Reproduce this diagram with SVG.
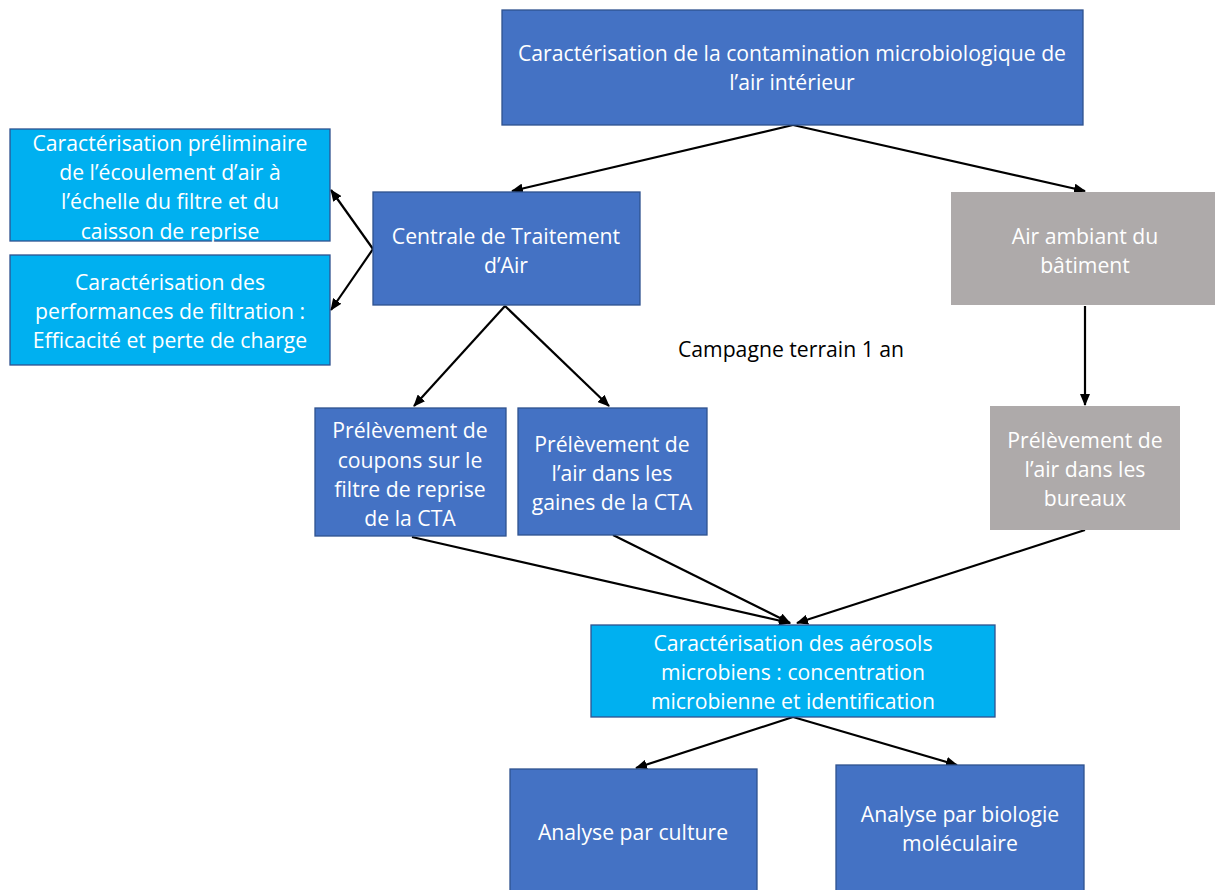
<svg xmlns="http://www.w3.org/2000/svg" width="1215" height="890" viewBox="0 0 1215 890">
<style>
text{font-family:"Open Sans","Liberation Sans",Arial,sans-serif;font-size:21.2px;text-anchor:middle;fill:#fff}
.blue{fill:#4472C4;stroke:#2F528F;stroke-width:1.3}
.cyan{fill:#00B0F0;stroke:#2F528F;stroke-width:1.3}
.grey{fill:#AEAAAA;stroke:none}
.c{stroke:#000;stroke-width:2.2;fill:none;marker-end:url(#ah)}
.lbl{fill:#000}
</style>
<defs>
<marker id="ah" markerUnits="userSpaceOnUse" markerWidth="12" markerHeight="10" refX="11" refY="5" orient="auto">
<path d="M0,0 L12,5 L0,10 Z" fill="#000"/>
</marker>
</defs>
<rect width="1215" height="890" fill="#fff"/>
<g id="connectors">
<line class="c" x1="793" y1="125" x2="512" y2="191"/>
<line class="c" x1="793" y1="125" x2="1085" y2="191"/>
<line class="c" x1="373" y1="249" x2="331" y2="190"/>
<line class="c" x1="373" y1="249" x2="331" y2="310"/>
<line class="c" x1="505" y1="306" x2="414" y2="406"/>
<line class="c" x1="505" y1="306" x2="609" y2="406"/>
<line class="c" x1="1085" y1="306" x2="1085" y2="405"/>
<line class="c" x1="412" y1="537" x2="790" y2="623"/>
<line class="c" x1="613" y1="535" x2="790" y2="623"/>
<line class="c" x1="1085" y1="530" x2="797" y2="623"/>
<line class="c" x1="793" y1="717" x2="636" y2="768"/>
<line class="c" x1="793" y1="717" x2="957" y2="765"/>
</g>
<g id="n-top">
<rect class="blue" x="502" y="10" width="581" height="115"/>
<text x="792" y="61">Caractérisation de la contamination microbiologique de</text>
<text x="792" y="90">l’air intérieur</text>
</g>
<g id="n-ecoulement">
<rect class="cyan" x="10" y="129" width="320" height="112"/>
<text x="170" y="151">Caractérisation préliminaire</text>
<text x="170" y="180">de l’écoulement d’air à</text>
<text x="170" y="209">l’échelle du filtre et du</text>
<text x="170" y="239">caisson de reprise</text>
</g>
<g id="n-performances">
<rect class="cyan" x="10" y="255" width="320" height="110"/>
<text x="170" y="290">Caractérisation des</text>
<text x="170" y="319">performances de filtration :</text>
<text x="170" y="348">Efficacité et perte de charge</text>
</g>
<g id="n-centrale">
<rect class="blue" x="373" y="192" width="267" height="113"/>
<text x="506" y="244">Centrale de Traitement</text>
<text x="506" y="273">d’Air</text>
</g>
<g id="n-ambiant">
<rect class="grey" x="951" y="192" width="264" height="113"/>
<text x="1085" y="244">Air ambiant du</text>
<text x="1085" y="273">bâtiment</text>
</g>
<g id="n-campagne">
<text class="lbl" x="791" y="357">Campagne terrain 1 an</text>
</g>
<g id="n-coupons">
<rect class="blue" x="315" y="408" width="191" height="128"/>
<text x="410" y="438">Prélèvement de</text>
<text x="410" y="468">coupons sur le</text>
<text x="410" y="497">filtre de reprise</text>
<text x="410" y="526">de la CTA</text>
</g>
<g id="n-gaines">
<rect class="blue" x="518" y="408" width="189" height="127"/>
<text x="612" y="452">Prélèvement de</text>
<text x="612" y="481">l’air dans les</text>
<text x="612" y="510">gaines de la CTA</text>
</g>
<g id="n-bureaux">
<rect class="grey" x="990" y="406" width="190" height="124"/>
<text x="1085" y="448">Prélèvement de</text>
<text x="1085" y="477">l’air dans les</text>
<text x="1085" y="506">bureaux</text>
</g>
<g id="n-aerosols">
<rect class="cyan" x="591" y="625" width="404" height="92"/>
<text x="793" y="651">Caractérisation des aérosols</text>
<text x="793" y="680">microbiens : concentration</text>
<text x="793" y="709">microbienne et identification</text>
</g>
<g id="n-culture">
<rect class="blue" x="510" y="769" width="247" height="130"/>
<text x="633" y="840">Analyse par culture</text>
</g>
<g id="n-biologie">
<rect class="blue" x="836" y="765" width="248" height="130"/>
<text x="960" y="822">Analyse par biologie</text>
<text x="960" y="851">moléculaire</text>
</g>
</svg>
